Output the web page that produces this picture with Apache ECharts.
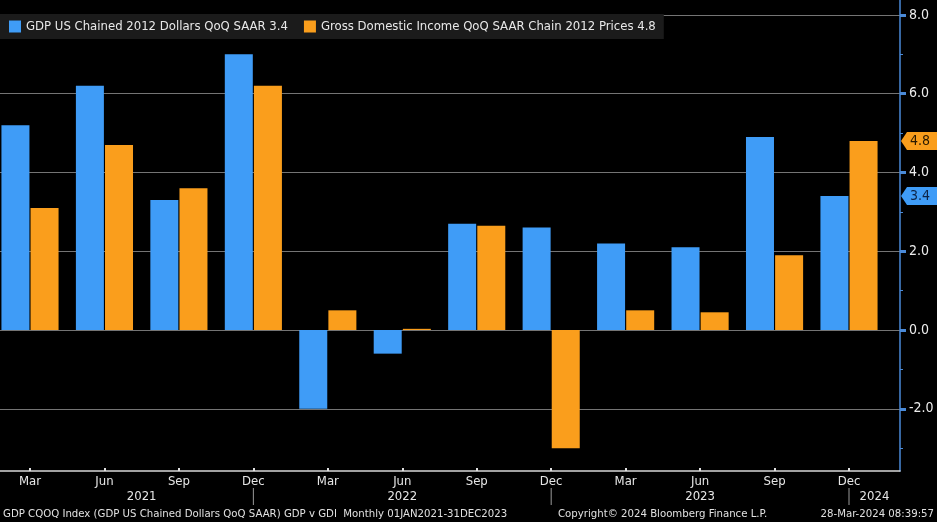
<!DOCTYPE html>
<html><head><meta charset="utf-8">
<script src="https://cdn.jsdelivr.net/npm/echarts@6/dist/echarts.min.js"></script>
<style>html,body{margin:0;padding:0;background:#000;}#c{width:937px;height:522px;}</style>
</head><body><div id="c"></div>
<script>
const quarters = ['Mar','Jun','Sep','Dec','Mar','Jun','Sep','Dec','Mar','Jun','Sep','Dec'];
const years = ['2021','2022','2023','2024'];
const gdpName = 'GDP US Chained 2012 Dollars QoQ SAAR';
const gdiName = 'Gross Domestic Income QoQ SAAR Chain 2012 Prices';
const gdp = [5.2, 6.2, 3.3, 7.0, -2.0, -0.6, 2.7, 2.6, 2.2, 2.1, 4.9, 3.4];
const gdi = [3.1, 4.7, 3.6, 6.2, 0.5, 0.03, 2.65, -3.0, 0.5, 0.45, 1.9, 4.8];
const yTicks = [-2, 0, 2, 4, 6, 8];
const yMinorTicks = [-3, -1, 1, 3, 5, 7];
const footerLeft = 'GDP CQOQ Index (GDP US Chained Dollars QoQ SAAR) GDP v GDI  Monthly 01JAN2021-31DEC2023';
const footerMid = 'Copyright\u00A9 2024 Bloomberg Finance L.P.';
const footerRight = '28-Mar-2024 08:39:57';

const Y_MIN = -3.58, Y_MAX = 8.38;
const FONT = '"DejaVu Sans Condensed", "Liberation Sans Narrow", sans-serif';
const BLUE = '#3f9cf7', ORANGE = '#fa9e1c', AXIS = '#4a8ad8';
const gdpLabel = gdpName + ' ' + gdp[gdp.length - 1].toFixed(1);
const gdiLabel = gdiName + ' ' + gdi[gdi.length - 1].toFixed(1);

const chart = echarts.init(document.getElementById('c'), null, {renderer: 'canvas'});
chart.setOption({
  backgroundColor: '#000',
  animation: false,
  legend: {
    left: 0, top: 14, padding: [6, 8, 6, 9], itemGap: 16, itemWidth: 12, itemHeight: 12,
    icon: 'rect', backgroundColor: '#1b1b1b',
    textStyle: {color: '#e8e8e8', fontSize: 13, fontFamily: FONT},
    data: [gdpLabel, gdiLabel]
  },
  grid: [
    {left: 30, right: 88, top: 0, bottom: 51, containLabel: false},
    {left: 0, right: 37, top: 0, bottom: 51, containLabel: false}
  ],
  xAxis: [
    {gridIndex: 0, type: 'category', data: quarters, boundaryGap: false,
      axisLine: {show: false, onZero: false},
      axisTick: {show: true, inside: true, length: 3, lineStyle: {color: '#e0e0e0', width: 2}},
      axisLabel: {interval: 0, color: '#e6e6e6', fontSize: 13, fontFamily: FONT, margin: 4},
      splitLine: {show: false}},
    {gridIndex: 1, type: 'category', data: quarters,
      axisLine: {show: true, onZero: false, lineStyle: {color: '#d8d8d8', width: 1.5}},
      axisTick: {show: false}, axisLabel: {show: false}, splitLine: {show: false}}
  ],
  yAxis: [
    {gridIndex: 0, type: 'value', min: Y_MIN, max: Y_MAX, show: false, splitLine: {show: false}},
    {gridIndex: 1, type: 'value', position: 'right', min: Y_MIN, max: Y_MAX,
      axisLine: {show: true, onZero: false, lineStyle: {color: AXIS, width: 1.5}},
      axisTick: {show: true, inside: false, length: 6, customValues: yTicks, lineStyle: {color: AXIS, width: 3}},
      axisLabel: {customValues: yTicks, formatter: v => v.toFixed(1), color: '#ececec', fontSize: 14, fontFamily: FONT, margin: 9},
      splitLine: {show: true, lineStyle: {color: '#747474', width: 1}}},
    {gridIndex: 1, type: 'value', position: 'right', min: Y_MIN, max: Y_MAX,
      axisLine: {show: false},
      axisTick: {show: true, inside: false, length: 3, customValues: yMinorTicks, lineStyle: {color: AXIS, width: 1}},
      axisLabel: {show: false}, splitLine: {show: false}}
  ],
  series: [
    {name: gdpLabel, type: 'bar', xAxisIndex: 0, yAxisIndex: 0, data: gdp, barWidth: 28, barGap: '4%', clip: false,
      itemStyle: {color: BLUE}, z: 3},
    {name: gdiLabel, type: 'bar', xAxisIndex: 0, yAxisIndex: 0, data: gdi, barWidth: 28, barGap: '4%', clip: false,
      itemStyle: {color: ORANGE}, z: 3}
  ]
});

// annotations positioned through the axes
const g = [];
const px = i => chart.convertToPixel({xAxisIndex: 0}, i);
const py = v => chart.convertToPixel({yAxisIndex: 0}, v);
const rightX = 900;
const seps = [3, 7, 11].map(px);
const bounds = [px(0)].concat(seps).concat([rightX]);
seps.forEach(x => g.push({type: 'line', shape: {x1: x, y1: 488, x2: x, y2: 505}, style: {stroke: '#9a9a9a', lineWidth: 1}, silent: true}));
years.forEach((y, i) => g.push({type: 'text', x: (bounds[i] + bounds[i + 1]) / 2, y: 497,
  style: {text: y, fill: '#e6e6e6', font: '13px ' + FONT, align: 'center', verticalAlign: 'middle'}}));
g.push({type: 'text', x: 3, y: 514, style: {text: footerLeft, fill: '#e0e0e0', font: '11.3px ' + FONT, align: 'left', verticalAlign: 'middle'}});
g.push({type: 'text', x: 558, y: 514, style: {text: footerMid, fill: '#e0e0e0', font: '11.3px ' + FONT, align: 'left', verticalAlign: 'middle'}});
g.push({type: 'text', x: 934, y: 514, style: {text: footerRight, fill: '#e0e0e0', font: '11.3px ' + FONT, align: 'right', verticalAlign: 'middle'}});
function tag(v, color, txtColor) {
  const cy = py(v);
  g.push({type: 'polygon', shape: {points: [[rightX + 1, cy], [rightX + 7, cy - 9], [937, cy - 9], [937, cy + 9], [rightX + 7, cy + 9]]},
    style: {fill: color}, z: 10});
  g.push({type: 'text', x: rightX + 10, y: cy, z: 11,
    style: {text: v.toFixed(1), fill: txtColor, font: '14px ' + FONT, align: 'left', verticalAlign: 'middle'}});
}
tag(gdi[gdi.length - 1], ORANGE, '#2a1a00');
tag(gdp[gdp.length - 1], BLUE, '#0c2447');
chart.setOption({graphic: g});
</script></body></html>
